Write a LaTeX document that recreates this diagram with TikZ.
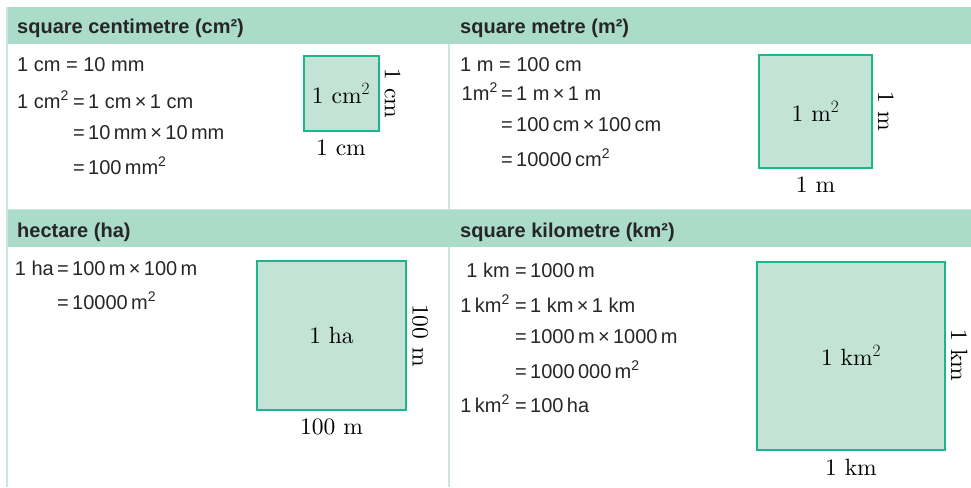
\documentclass[tikz,border=0pt]{standalone}
\usepackage{fontspec}
\usetikzlibrary{positioning}
\newfontfamily\eqfont{Liberation Sans}
\newfontfamily\sqfont{lmroman10-regular.otf}
\newcommand{\sqr}{\textsuperscript{2}}
\definecolor{headgreen}{HTML}{ABDBC9}
\definecolor{rulegreen}{HTML}{C8E8DD}
\definecolor{sqfill}{HTML}{C2E3D5}
\definecolor{sqedge}{HTML}{1DB58C}

\begin{document}
\begin{tikzpicture}[x=1pt, y=-1pt]
  % Define styles
  \tikzstyle{header}=[anchor=base west, inner sep=0pt, text=black!85, font=\eqfont\fontsize{20}{24}\selectfont\bfseries]
  \tikzstyle{eqn}=[inner sep=0pt, text=black!85, font=\eqfont\fontsize{20}{24}\selectfont]
  \tikzstyle{lhs}=[eqn, anchor=base east]
  \tikzstyle{rhs}=[eqn, anchor=base west]
  \tikzstyle{unitsq}=[rectangle, draw=sqedge, fill=sqfill, line width=2pt, font=\sqfont\fontsize{23.5}{28}\selectfont]
  \tikzstyle{botlab}=[inner sep=0pt, font=\sqfont\fontsize{23.5}{28}\selectfont]
  \tikzstyle{sidelab}=[rotate=-90, anchor=south, inner sep=5pt, font=\sqfont\fontsize{23.5}{28}\selectfont]
  \tikzstyle{rule}=[draw=rulegreen, line width=1.5pt]

  \fill[white] (0,0) rectangle (971,487);
  \useasboundingbox (0,0) rectangle (971,487);

  % Header bars and frame
  \fill[headgreen] (7,7) rectangle (971,44);
  \fill[headgreen] (7,210) rectangle (971,247);
  \draw[rule] (7,7) -- (7,487);
  \draw[rule] (449,44) -- (449,209);
  \draw[rule] (449,247) -- (449,487);
  \draw[rule, line width=1pt] (7,209) -- (971,209);

  % Headers
  \node[header] (hcm) at (17,34) {square centimetre (cm²)};
  \node[header] (hm) at (460,34) {square metre (m²)};
  \node[header] (hha) at (17,237) {hectare (ha)};
  \node[header] (hkm) at (460,237) {square kilometre (km²)};

  % Square centimetre
  \node[rhs] (cmdef) at (17,71) {1 cm = 10 mm};
  \node[lhs] (cmA) at (69,108) {1 cm\sqr};
  \node[rhs] (cmB) at (73,108) {=\,1 cm\,×\,1 cm};
  \node[rhs] (cmC) at (73,139) {=\,10\,mm\,×\,10\,mm};
  \node[rhs] (cmD) at (73,174) {=\,100\,mm\sqr};
  \node[unitsq, minimum size=75pt] (cmsq) at (341,93.5) {1 cm$^2$};
  \node[sidelab] (cmside) at (cmsq.east) {1 cm};
  \node[botlab, below=8pt of cmsq] (cmbot) {1 cm};

  % Square metre
  \node[rhs] (mdef) at (460,71) {1 m = 100 cm};
  \node[lhs] (mA) at (498,100) {1m\sqr};
  \node[rhs] (mB) at (501,100) {=\,1 m\,×\,1 m};
  \node[rhs] (mC) at (501,131) {=\,100\,cm\,×\,100\,cm};
  \node[rhs] (mD) at (501,166) {=\,10000\,cm\sqr};
  \node[unitsq, minimum size=113pt] (msq) at (815.5,111.5) {1 m$^2$};
  \node[sidelab] (mside) at (msq.east) {1 m};
  \node[botlab, below=8pt of msq] (mbot) {1 m};

  % Hectare
  \node[lhs] (haA) at (54,275) {1 ha};
  \node[rhs] (haB) at (57,275) {=\,100\,m\,×\,100\,m};
  \node[rhs] (haC) at (57,309) {=\,10000\,m\sqr};
  \node[unitsq, minimum size=149pt] (hasq) at (331.5,335.5) {1 ha};
  \node[sidelab] (haside) at (hasq.east) {100 m};
  \node[botlab, below=8pt of hasq] (habot) {100 m};

  % Square kilometre
  \node[lhs] (kmA) at (510,277) {1 km};
  \node[rhs] (kmB) at (515,277) {=\,1000\,m};
  \node[lhs] (kmC) at (510,312) {1\,km\sqr};
  \node[rhs] (kmD) at (515,312) {=\,1 km\,×\,1 km};
  \node[rhs] (kmE) at (515,343) {=\,1000\,m\,×\,1000\,m};
  \node[rhs] (kmF) at (515,378) {=\,1000\,000\,m\sqr};
  \node[lhs] (kmG) at (510,412) {1\,km\sqr};
  \node[rhs] (kmH) at (515,412) {=\,100\,ha};
  \node[unitsq, minimum size=188pt] (kmsq) at (851,355.5) {1 km$^2$};
  \node[sidelab] (kmside) at (kmsq.east) {1 km};
  \node[botlab, below=8pt of kmsq] (kmbot) {1 km};
\end{tikzpicture}
\end{document}
